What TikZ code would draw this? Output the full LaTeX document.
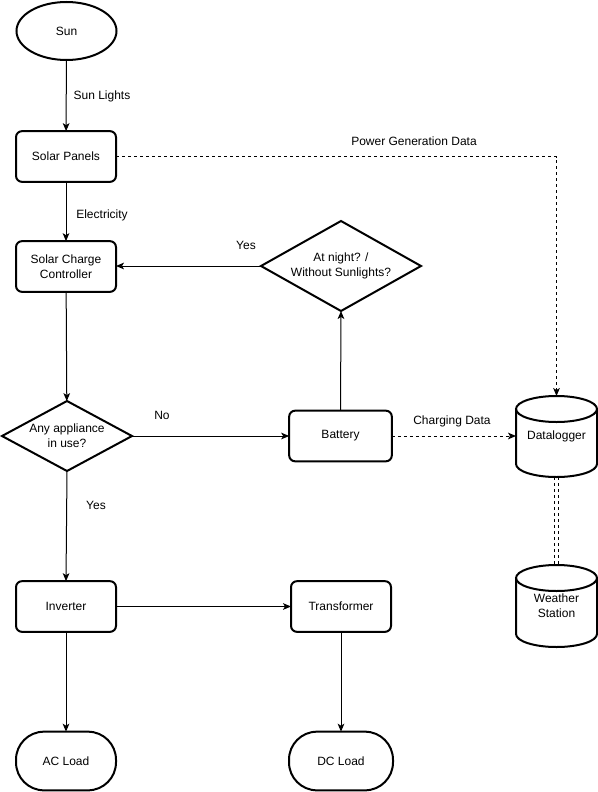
\documentclass[tikz,border=0pt]{standalone}
\usepackage{fontspec}
\setmainfont{Liberation Sans}
\usetikzlibrary{shapes.geometric,arrows.meta}
\begin{document}
\begin{tikzpicture}[x=0.75pt,y=-0.75pt,
 font=\fontsize{9}{11}\selectfont,
 shp/.style={draw, line width=1.5pt, inner sep=0pt, outer sep=0pt, align=center},
 box/.style={shp, rounded corners=4.5pt, minimum width=75pt, minimum height=38pt},
 term/.style={shp, rounded corners=21pt, minimum width=75pt, minimum height=44pt},
 oval/.style={shp, ellipse, minimum width=75pt, minimum height=43.5pt},
 dec/.style={shp, diamond},
 cylbox/.style={draw=none, inner sep=0pt, outer sep=0pt, minimum width=60.75pt, align=center},
 conn/.style={line width=0.75pt, -{Stealth[length=6pt,width=5pt,inset=1.5pt]}},
 dconn/.style={conn, dash pattern=on 2.25pt off 2.25pt},
 dline/.style={line width=0.75pt, dash pattern=on 2.25pt off 2.25pt},
 lbl/.style={inner sep=0pt}]
\useasboundingbox (0,0) rectangle (597,792);

% nodes
\node[oval] (sun) at (66.5,31) {Sun};
\node[box] (sp) at (66,156.5) {Solar Panels};
\node[box] (scc) at (66,266.5) {Solar Charge\\Controller};
\node[dec, minimum width=97.5pt, minimum height=52.5pt, aspect=1.86] (any) at (67,436) {Any appliance\\in use?};
\node[box, minimum width=77pt] (bat) at (340.5,436) {Battery};
\node[dec, minimum width=120pt, minimum height=67.5pt, aspect=1.78] (night) at (341,266) {At night? /\\Without Sunlights?};
\node[box] (inv) at (66,606.5) {Inverter};
\node[box] (tr) at (341,606.5) {Transformer};
\node[term] (ac) at (66,761) {AC Load};
\node[term, minimum width=78pt] (dc) at (341,761) {DC Load};

% cylinders
\node[cylbox, minimum height=60.75pt] (dl) at (556.5,436.5) {Datalogger};
\node[cylbox, minimum height=61.5pt] (ws) at (556.5,606) {Weather\\Station};
\draw[line width=1.5pt] (556.5,409) ellipse [x radius=30.375pt, y radius=9.75pt];
\draw[line width=1.5pt] (516,409) -- (516,464) arc [start angle=180, end angle=360, x radius=30.375pt, y radius=9.75pt] -- (597,409);
\draw[line width=1.5pt] (556.5,578) ellipse [x radius=30.375pt, y radius=9.75pt];
\draw[line width=1.5pt] (516,578) -- (516,634) arc [start angle=180, end angle=360, x radius=30.375pt, y radius=9.75pt] -- (597,578);

% connectors
\draw[conn] (sun) -- (sp);
\node[lbl] (l1) at (102,96) {Sun Lights};
\draw[conn] (sp) -- (scc);
\node[lbl] (l2) at (102,215) {Electricity};
\draw[conn] (scc) -- (any);
\draw[conn] (any.east) -- (bat.west);
\node[lbl] (l3) at (162,415) {No};
\draw[conn] (any.south) -- (inv.north);
\node[lbl] (l4) at (96,505) {Yes};
\draw[conn] (bat.north) -- (night.south);
\draw[conn] (night.west) -- (night.west -| scc.east);
\node[lbl] (l5) at (246,245) {Yes};
\draw[conn] (inv.east) -- (tr.west);
\draw[conn] (inv.south) -- (ac.north);
\draw[conn] (tr.south) -- (dc.north);
\draw[dconn] (sp.east) -| (dl.north);
\node[lbl] (l6) at (414,141) {Power Generation Data};
\draw[dconn] (bat.east) -- (bat.east -| dl.west);
\node[lbl] (l7) at (452,421) {Charging Data};
\draw[dline] ([xshift=-1.6pt]dl.south) -- ([xshift=-1.6pt]ws.north);
\draw[dline] ([xshift=1.4pt]dl.south) -- ([xshift=1.4pt]ws.north);
\end{tikzpicture}
\end{document}
